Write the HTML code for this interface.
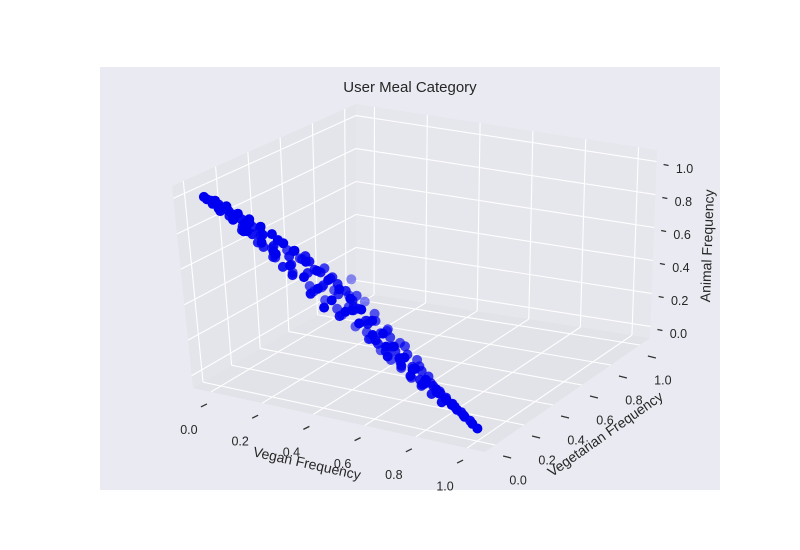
<!DOCTYPE html>
<html><head><meta charset="utf-8">
<style>
html,body{margin:0;padding:0;background:#fff;}
svg{display:block;font-family:"Liberation Sans",sans-serif;}
</style></head>
<body>
<svg id="chart" width="800" height="550" viewBox="0 0 800 550">
<rect x="100" y="67" width="620" height="423" fill="#eaeaf2"/>
<g id="panes"></g>
<g id="grid"></g>
<g id="ticks"></g>
<g id="points"></g>
<text x="410" y="92" text-anchor="middle" font-size="15" fill="#262626">User Meal Category</text>
<text transform="translate(306,468) rotate(12.5)" text-anchor="middle" font-size="14" fill="#262626">Vegan Frequency</text>
<text transform="translate(608,438) rotate(-35)" text-anchor="middle" font-size="14" fill="#262626">Vegetarian Frequency</text>
<text transform="translate(712,246) rotate(-88)" text-anchor="middle" font-size="14" fill="#262626">Animal Frequency</text>
</svg>
<script>
const tickValues = [0, 0.2, 0.4, 0.6, 0.8, 1.0];
const tickLabels = ["0.0", "0.2", "0.4", "0.6", "0.8", "1.0"];
const vegan = [0,0.01,0.02,0.03,0.04,0.05,0.06,0.07,0.08,0.09,0.10,0.11,0.12,0.13,0.14,0.15,
0.16,0.17,0.18,0.19,0.20,0.21,0.22,0.23,0.24,0.25,0.26,0.27,0.28,0.29,0.30,
0.31,0.32,0.33,0.34,0.35,0.36,0.37,0.38,0.39,0.40,0.41,0.42,0.43,0.44,0.45,0.46,0.47,0.48,0.49,0.50,0.51,0.52,0.53,0.54,0.55,0.56,0.57,0.58,0.59,0.60,
0.40,0.46,
0.61,0.62,0.63,0.64,0.65,0.66,0.67,0.68,0.69,0.70,0.71,0.72,0.73,0.74,0.75,0.76,0.77,0.78,0.79,0.80,
0.82,0.84,0.85,0.87,0.88,0.90,0.92,0.94,0.96,0.98,1.0,
0.05,0.10,0.15,0.20,0.25,0.30,0.35,0.40,0.45,0.50,0.55,0.60,0.65,0.70,0.75,0.80,0.85,0.90,0.95,
0.04,0.08,0.12,0.16,0.20,0.24,0.28,0.32,0.36,0.40,0.44,0.48,0.52,0.56,0.60,0.64,0.68,0.72,0.76,0.80,0.84,0.88,0.92,
0.10,0.15,0.20,0.25,0.30,0.35,0.40,0.45,0.50,0.55,0.60,0.65,0.70,0.75,0.80,0.85,
0.13,0.18,0.22,0.27,0.33,0.38,0.43,0.48,0.53,0.58,0.63,0.68,0.73,0.78,0.83,0.89,0.35,0.42,0.47,0.52];
const vegetarian = [0,0,0.01,0,0.02,0.01,0,0.03,0.01,0.02,0,0.04,0.02,0.01,0.05,0.03,
0,0.06,0.03,0.08,0.01,0.05,0.07,0.02,0.09,0.04,0,0.06,0.10,0.03,0.08,
0.01,0.11,0.05,0.13,0.07,0.02,0.10,0.14,0.04,0.12,0.08,0,0.15,0.06,0.11,0.03,0.13,0.09,0.16,0.05,0.12,0.01,0.14,0.08,0.11,0.04,0.15,0.07,0.12,0.02,
0.22,0.20,
0.10,0.05,0.13,0.08,0.01,0.11,0.06,0.09,0.03,0.12,0.07,0.10,0.02,0.08,0.05,0.09,0.03,0.07,0.01,0.05,
0.06,0.03,0.05,0.01,0.04,0.02,0.03,0.01,0.02,0,0,
0,0,0,0,0,0,0,0,0,0,0,0,0,0,0,0,0,0,0,
0,0,0,0,0,0,0,0,0,0,0,0,0,0,0,0,0,0,0,0,0,0,0,
0.05,0.06,0.08,0.10,0.12,0.13,0.15,0.15,0.16,0.14,0.12,0.10,0.08,0.06,0.04,0.02,
0.02,0.03,0.04,0.05,0.06,0.07,0.08,0.09,0.08,0.09,0.07,0.05,0.04,0.03,0.02,0.02,0.04,0.05,0.06,0.05];
const animal = [1.00,0.99,0.98,0.97,0.96,0.93,0.96,0.90,0.94,0.89,0.93,0.85,0.90,0.84,0.85,0.82,
0.90,0.74,0.86,0.73,0.84,0.70,0.79,0.75,0.73,0.66,0.83,0.67,0.69,0.63,0.70,
0.78,0.51,0.74,0.53,0.66,0.55,0.66,0.52,0.67,0.43,0.63,0.50,0.50,0.61,0.46,0.45,0.52,0.48,0.37,0.54,0.33,0.51,0.43,0.32,0.41,0.43,0.34,0.31,0.37,0.36,
0.55,0.45,
0.34,0.29,0.30,0.28,0.29,0.30,0.24,0.27,0.24,0.23,0.22,0.21,0.20,0.20,0.17,0.17,0.16,0.15,0.18,0.15,
0.12,0.13,0.10,0.12,0.08,0.08,0.05,0.05,0.02,0.02,0,
0.95,0.90,0.85,0.80,0.75,0.70,0.65,0.60,0.55,0.50,0.45,0.40,0.35,0.30,0.25,0.20,0.15,0.10,0.05,
0.99,0.97,0.94,0.92,0.89,0.86,0.82,0.79,0.74,0.70,0.66,0.62,0.58,0.53,0.48,0.42,0.36,0.31,0.26,0.21,0.17,0.12,0.08,
0.82,0.76,0.68,0.60,0.53,0.46,0.38,0.33,0.27,0.23,0.20,0.18,0.15,0.13,0.11,0.09,
0.88,0.82,0.77,0.72,0.64,0.58,0.54,0.46,0.42,0.36,0.31,0.27,0.23,0.18,0.14,0.09,0.72,0.64,0.58,0.50];

const LO = -0.07, HI = 1.07;
const C = {
 "000":[193,388],"001":[172,186],"010":[356,292],"011":[356,104],
 "100":[485,452],"101":[490,245],"110":[650,338],"111":[657,150]
};
function norm(v){return (v-LO)/(HI-LO);}
function P(a,b,c){
 let x=0,y=0;
 for(const i of [0,1])for(const j of [0,1])for(const k of [0,1]){
  const w=(i?a:1-a)*(j?b:1-b)*(k?c:1-c);
  const p=C[""+i+j+k]; x+=w*p[0]; y+=w*p[1];
 }
 return [x,y];
}
function D(u,v,w){return P(norm(u),norm(v),norm(w));}
const NS="http://www.w3.org/2000/svg";
function poly(g,pts,fill,name){
 const e=document.createElementNS(NS,"polygon");
 e.setAttribute("points",pts.map(p=>p.join(",")).join(" "));
 e.setAttribute("fill",fill);
 
 
 g.appendChild(e);
}
function line(g,a,b,stroke,sw,name){
 const e=document.createElementNS(NS,"line");
 e.setAttribute("x1",a[0]);e.setAttribute("y1",a[1]);e.setAttribute("x2",b[0]);e.setAttribute("y2",b[1]);
 e.setAttribute("stroke",stroke);e.setAttribute("stroke-width",sw);
 
 
 g.appendChild(e);
}
function text(g,p,s,name){
 const e=document.createElementNS(NS,"text");
 e.setAttribute("x",p[0]);e.setAttribute("y",p[1]);
 e.setAttribute("text-anchor","middle");e.setAttribute("font-size","12.5");e.setAttribute("fill","#262626");
 e.setAttribute("dominant-baseline","middle");
 e.textContent=s;
 
 
 g.appendChild(e);
}
const panes=document.getElementById("panes");
poly(panes,[C["000"],C["010"],C["011"],C["001"]],"#e4e4eb","left-pane");
poly(panes,[C["010"],C["110"],C["111"],C["011"]],"#e6e6ed","back-pane");
poly(panes,[C["000"],C["100"],C["110"],C["010"]],"#e2e2e9","floor-pane");
const grid=document.getElementById("grid");
tickValues.forEach(t=>{
 const n=norm(t);
 line(grid,P(0,n,0),P(0,n,1),"#fff",1.1,"gridline-left-veg");
 line(grid,P(0,0,n),P(0,1,n),"#fff",1.1,"gridline-left-animal");
 line(grid,P(n,1,0),P(n,1,1),"#fff",1.1,"gridline-back-vegan");
 line(grid,P(0,1,n),P(1,1,n),"#fff",1.1,"gridline-back-animal");
 line(grid,P(n,0,0),P(n,1,0),"#fff",1.1,"gridline-floor-vegan");
 line(grid,P(0,n,0),P(1,n,0),"#fff",1.1,"gridline-floor-veg");
});
const ticks=document.getElementById("ticks");
tickValues.forEach((t,i)=>{
 const n=norm(t);
 let p=P(n,0,0);
 line(ticks,[p[0]-4,p[1]+12],[p[0]-10,p[1]+15],"#333",1.3,"x-tick");
 text(ticks,[p[0]-22,p[1]+39],tickLabels[i],"x-tick-label");
 p=P(1,n,0);
 line(ticks,[p[0]+8,p[1]+11],[p[0]+16,p[1]+13],"#333",1.3,"y-tick");
 text(ticks,[p[0]+23,p[1]+36],tickLabels[i],"y-tick-label");
 p=P(1,1,n);
 line(ticks,[p[0]+7,p[1]+3],[p[0]+12,p[1]+4],"#333",1.3,"z-tick");
 text(ticks,[p[0]+28,p[1]+8],tickLabels[i],"z-tick-label");
});
const pg=document.getElementById("points");
const idx=vegan.map((_,i)=>i).sort((a,b)=>vegetarian[b]-vegetarian[a]);
idx.forEach(i=>{
 const p=D(vegan[i],vegetarian[i],animal[i]);
 const e=document.createElementNS(NS,"circle");
 e.setAttribute("cx",p[0].toFixed(1));e.setAttribute("cy",p[1].toFixed(1));
 e.setAttribute("r",5);
 const op=Math.max(0.35,1-2.6*vegetarian[i]);
 e.setAttribute("fill","#0000f0");e.setAttribute("fill-opacity",op);
 
 
 pg.appendChild(e);
});
</script>
</body></html>
